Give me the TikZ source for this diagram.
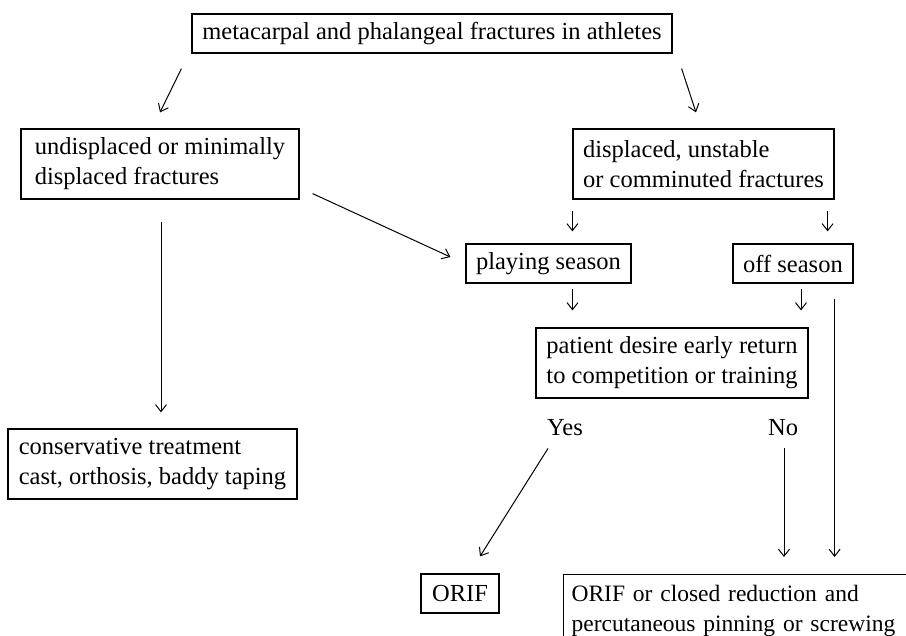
\documentclass[tikz,border=0pt]{standalone}
\usepackage{fontspec}
\setmainfont{Liberation Serif}
\usetikzlibrary{arrows.meta, calc}

\begin{document}
\begin{tikzpicture}[x=1pt, y=-1pt,
	box/.style={draw=black, line width=1.2pt, rectangle, align=left, inner xsep=9pt, inner ysep=0pt, font=\fontsize{24.5}{30}\selectfont},
	lbl/.style={inner sep=0pt, font=\fontsize{24.5}{30}\selectfont},
	arr/.style={line width=1pt, -{Straight Barb[length=7pt, width=11pt]}}]

	\useasboundingbox (0,0) rectangle (906,636);
	\clip (0,0) rectangle (906,636);

	\node[box, minimum width=480pt, minimum height=39pt] (top) at (432,33.5) {metacarpal and phalangeal fractures in athletes};
	\node[box, minimum width=278pt, minimum height=70pt] (undisp) at (160,164) {undisplaced or minimally\\displaced fractures};
	\node[box, minimum width=261pt, minimum height=70pt] (disp) at (703.5,164) {displaced, unstable\\or comminuted fractures};
	\node[box, minimum width=165pt, minimum height=39pt] (play) at (548.5,263.5) {playing season};
	\node[box, minimum width=120pt, minimum height=39pt] (off) at (793,263.5) {off season};
	\node[box, minimum width=272pt, minimum height=70pt] (desire) at (672,363) {patient desire early return\\to competition or training};
	\node[box, minimum width=289pt, minimum height=70pt] (cons) at (152.5,464) {conservative treatment\\cast, orthosis, baddy taping};
	\node[box, minimum width=78pt, minimum height=39pt] (orif) at (460,593.5) {ORIF};
	\node[box, text width=345pt, minimum height=72pt, inner xsep=8pt, anchor=north west, font=\fontsize{23.5}{30}\selectfont] (orifcr) at (563,574) {ORIF or closed reduction and\\percutaneous pinning or screwing};

	\node[lbl, anchor=base west] (yes) at (547,436) {Yes};
	\node[lbl, anchor=base west] (no) at (768,436) {No};

	% connectors
	\draw[arr] ($(top.south west)+(-10,15)$) -- ($(undisp.north)+(0,-16)$);
	\draw[arr] ($(top.south east)+(9,15)$) -- ($(disp.north)+(-7.5,-16)$);
	\draw[arr] ($(undisp.south east)+(13,-6)$) -- ($(play.west)+(-15,-6.5)$);
	\draw[arr] ($(undisp.south)+(1,22)$) -- ($(cons.north)+(8.5,-16)$);

	\draw[arr] ($(disp.south west)+(0,11)$) -- ($(play.north -| disp.south west)+(0,-12)$);
	\draw[arr] ($(disp.south east)+(-7,11)$) -- ($(off.north -| disp.south east)+(-7,-12)$);
	\draw[arr] ($(play.south)+(24,5)$) -- ($(desire.north -| play.south)+(24,-17)$);
	\draw[arr] ($(off.south)+(8,5)$) -- ($(desire.north -| off.south)+(8,-17)$);
	\draw[arr] ($(off.south east)+(-19,15)$) -- ($(orifcr.north west -| off.south east)+(-19,-17)$);

	\draw[arr] ($(yes.south west)+(1,12)$) -- ($(orif.north)+(20,-17)$);
	\draw[arr] ($(no.south west)+(16,12)$) -- ($(orifcr.north west)+(221,-17)$);

\end{tikzpicture}
\end{document}
